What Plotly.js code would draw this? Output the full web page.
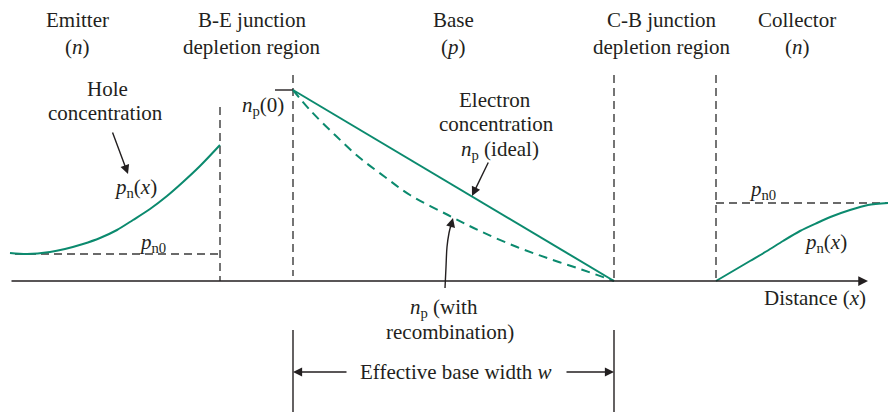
<!DOCTYPE html>
<html>
<head>
<meta charset="utf-8">
<script src="https://cdn.plot.ly/plotly-3.0.1.min.js"></script>
<style>html,body{margin:0;padding:0;background:#fff;}#chart{width:888px;height:412px;}</style>
</head>
<body>
<div id="chart"></div>
<script>
// ---- Data (x: distance, y: concentration, arbitrary units) ----
const emitterX     = [10, 27, 50, 65, 83, 100, 117, 133, 150, 167, 183, 200, 220];
const emitterHole  = [28, 27, 29, 32, 37, 43, 51, 61, 72, 85, 99, 115, 136];
const pn0Emitter   = 27;

const baseIdealX   = [293, 614];
const baseIdeal    = [191, 0];
const baseRecombX  = [293, 310, 335, 360, 385, 410, 448, 480, 517, 550, 583, 614];
const baseRecomb   = [191, 171, 146, 123, 104, 86, 66, 50, 34, 22, 11, 0];
const np0          = 191;

const collectorX    = [716, 733, 750, 767, 783, 800, 817, 833, 850, 868, 888];
const collectorHole = [0, 10, 20, 30, 40, 50, 58, 65, 71, 76, 78];
const pn0Collector  = 78;

const boundaryX   = [220, 293, 614, 716];
const boundaryTop = [174, 206, 206, 206];

const regionNames = ["Emitter", "B-E junction", "Base", "C-B junction", "Collector"];
const regionTypes = ["(<i>n</i>)", "depletion region", "(<i>p</i>)", "depletion region", "(<i>n</i>)"];
const regionX     = [77, 252, 453, 662, 797];

const GREEN = "#0b8a6e";
const GREY = "#3a3a3a";
const INK = "#231f20";
const FONT = {family: "Liberation Serif", size: 21, color: INK};

const traces = [];
// region boundaries (dashed)
boundaryX.forEach((bx, i) => {
  traces.push({x: [bx, bx], y: [boundaryTop[i], i === 1 ? 5 : 0], mode: "lines",
    line: {color: GREY, width: 1.4, dash: "8px,5px"}, hoverinfo: "skip"});
});
// lower solid guide lines for effective base width
[boundaryX[1], boundaryX[2]].forEach(bx => {
  traces.push({x: [bx, bx], y: [-49, -131], mode: "lines",
    line: {color: INK, width: 1.4}, hoverinfo: "skip"});
});
// equilibrium levels
traces.push({x: [15, boundaryX[0]], y: [pn0Emitter, pn0Emitter], mode: "lines",
  line: {color: GREY, width: 1.4, dash: "8px,5px"}, hoverinfo: "skip"});
traces.push({x: [boundaryX[3], 888], y: [pn0Collector, pn0Collector], mode: "lines",
  line: {color: GREY, width: 1.4, dash: "8px,5px"}, hoverinfo: "skip"});
// np(0) tick
traces.push({x: [275, boundaryX[1]], y: [np0, np0], mode: "lines",
  line: {color: INK, width: 1.4}, hoverinfo: "skip"});
// curves
traces.push({x: emitterX, y: emitterHole, mode: "lines", line: {color: GREEN, width: 2, shape: "spline", smoothing: 0.8}, hoverinfo: "skip"});
traces.push({x: baseIdealX, y: baseIdeal, mode: "lines", line: {color: GREEN, width: 2}, hoverinfo: "skip"});
traces.push({x: baseRecombX, y: baseRecomb, mode: "lines", line: {color: GREEN, width: 2, dash: "9px,6px", shape: "spline"}, hoverinfo: "skip"});
traces.push({x: collectorX, y: collectorHole, mode: "lines", line: {color: GREEN, width: 2, shape: "spline", smoothing: 0.8}, hoverinfo: "skip"});
// curved pointer for recombination label
traces.push({x: [445, 446, 447, 449, 451], y: [-7, 14, 34, 48, 56], mode: "lines",
  line: {color: INK, width: 1.4, shape: "spline"}, hoverinfo: "skip"});

function label(x, y, text, extra) {
  return Object.assign({x: x, y: 281 - y, xref: "x", yref: "y", text: text, showarrow: false,
    font: FONT, xanchor: "center", yanchor: "middle"}, extra || {});
}
function arrow(x0, y0, x1, y1, w) {
  return {x: x1, y: y1, ax: x0, ay: y0, xref: "x", yref: "y", axref: "x", ayref: "y",
    text: "", showarrow: true, arrowhead: 2, arrowsize: 1.3, arrowwidth: w || 1.4,
    arrowcolor: INK, standoff: 0, startstandoff: 0};
}

const annotations = [];
regionNames.forEach((t, i) => annotations.push(label(regionX[i], 20, t)));
regionTypes.forEach((t, i) => annotations.push(label(regionX[i], 47, t)));
annotations.push(label(107, 89, "Hole"));
annotations.push(label(105, 113, "concentration"));
annotations.push(label(135, 188, "<i>p</i><sub>n</sub>(<i>x</i>)"));
annotations.push(label(152, 243, "<i>p</i><sub>n0</sub>"));
annotations.push(label(263, 106, "<i>n</i><sub>p</sub>(0)"));
annotations.push(label(495, 100, "Electron"));
annotations.push(label(496, 124, "concentration"));
annotations.push(label(500, 150, "<i>n</i><sub>p</sub> (ideal)"));
annotations.push(label(444, 308, "<i>n</i><sub>p</sub> (with"));
annotations.push(label(450, 332, "recombination)"));
annotations.push(label(762, 190, "<i>p</i><sub>n0</sub>"));
annotations.push(label(825, 243, "<i>p</i><sub>n</sub>(<i>x</i>)"));
annotations.push(label(815, 298, "Distance (<i>x</i>)"));
annotations.push(label(455, 372, "Effective base width <i>w</i>"));
// arrows
annotations.push(arrow(10, 0, 868, 0, 1.5));        // distance axis
annotations.push(arrow(112, 150, 128, 107));        // hole concentration
annotations.push(arrow(489, 120, 472, 85));         // electron (ideal)
annotations.push(arrow(450, 52, 453, 63));          // recombination pointer head
annotations.push(arrow(348, -91, 293, -91));        // base width left
annotations.push(arrow(565, -91, 614, -91));        // base width right

const layout = {
  width: 888, height: 412,
  margin: {l: 0, r: 0, t: 0, b: 0},
  paper_bgcolor: "#ffffff", plot_bgcolor: "#ffffff",
  showlegend: false,
  xaxis: {range: [0, 888], visible: false, fixedrange: true},
  yaxis: {range: [-131, 281], visible: false, fixedrange: true},
  annotations: annotations,
  font: FONT
};

Plotly.newPlot("chart", traces, layout, {staticPlot: true, displayModeBar: false});
</script>
</body>
</html>
